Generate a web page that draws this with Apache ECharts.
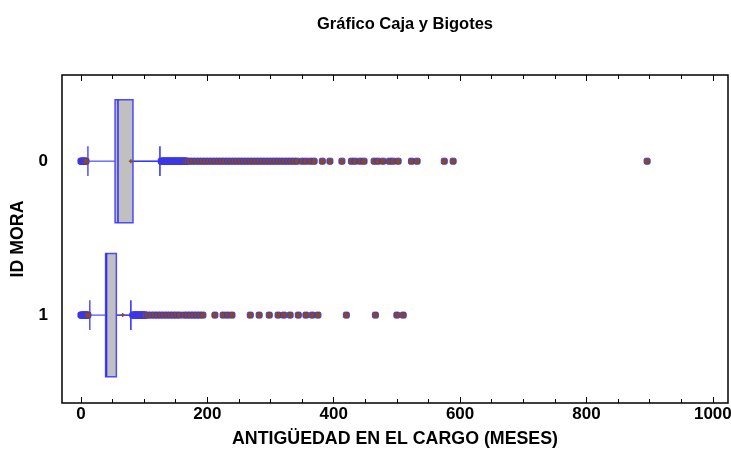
<!DOCTYPE html>
<html><head><meta charset="utf-8">
<script src="https://cdn.jsdelivr.net/npm/echarts@6/dist/echarts.min.js"></script>
<style>html,body{margin:0;padding:0;background:#fff}#c{width:731px;height:450px}</style>
</head><body><div id="c"></div>
<script>
const categories = ['0', '1'];
const q1 = [54, 39];
const median = [58.6, 40.5];
const q3 = [82.3, 56];
const mean = [79, 66];
const whiskerLow = [11, 14];
const whiskerHigh = [125, 79];

const outliers0Low = [0, 1, 2, 3, 4, 5, 6, 7, 8];
const outliers0High = [127,128,129,130,131,132,133,134,135,136,137,138,139,140,141,142,143,144,145,146,147,148,149,150,151,152,153,154,155,156,157,158,159,160,161,162,163,164,165,166,
  168,172,177,182,187,192,197,202,207,212,217,222,227,232,237,242,247,252,257,262,267,272,277,282,287,292,297,302,307,312,317,322,327,332,337,342,
  350,356,363,369,382,394,413,428,434,442,448,464,470,478,488,494,502,523,532,575,589,896];
const outliers1Low = [0, 1, 2, 3, 4, 5, 6, 7, 8, 9, 10, 11];
const outliers1High = [82,83,84,85,86,87,88,89,90,91,92,93,94,95,96,97,98,99,100,101,102,
  106,111,116,121,126,131,136,141,146,151,156,
  163,168,173,178,183,188,193,212,225,232,239,268,282,298,312,321,331,344,356,366,375,420,466,500,510];

const xTickLabels = [0, 200, 400, 600, 800, 1000];
const xMinorTicks = [50,100,150,250,300,350,450,500,550,650,700,750,850,900,950];

const chart = echarts.init(document.getElementById('c'));
const FONT = 'Liberation Sans, Arial, sans-serif';
const boxStroke = '#4a4aff';
const lineBlue = '#2a2aff';

function axisX(pos, ticks, len, withLabels) {
  const a = {
    type: 'value', min: -30, max: 1024, position: pos,
    axisLine: { show: false, onZero: false }, splitLine: { show: false },
    axisTick: { show: true, inside: true, length: len, customValues: ticks, lineStyle: { color: '#000', width: 1 } },
    axisLabel: { show: false }
  };
  if (withLabels) {
    a.axisLabel = { show: true, customValues: ticks, formatter: v => String(v), fontFamily: FONT, fontWeight: 'bold', fontSize: 17, color: '#000', margin: 3 };
    a.name = 'ANTIGÜEDAD EN EL CARGO (MESES)';
    a.nameLocation = 'middle';
    a.nameGap = 27;
    a.nameTextStyle = { fontFamily: FONT, fontWeight: 'bold', fontSize: 17.8, color: '#000' };
  }
  return a;
}

const allOut = [];
outliers0Low.concat(outliers0High).forEach(v => allOut.push([v, 0]));
outliers1Low.concat(outliers1High).forEach(v => allOut.push([v, 1]));

chart.setOption({
  animation: false,
  title: {
    text: 'Gráfico Caja y Bigotes', left: 400, top: 11, textAlign: 'center',
    textStyle: { fontFamily: FONT, fontWeight: 'bold', fontSize: 16.5, color: '#000' }
  },
  grid: { left: 62, right: 3, top: 75, bottom: 47, containLabel: false, outerBoundsMode: 'none', show: true, borderColor: '#000', borderWidth: 1.5, backgroundColor: 'transparent' },
  xAxis: [
    axisX('bottom', xTickLabels, 6, true),
    axisX('bottom', xMinorTicks, 4, false),
    axisX('top', xTickLabels, 6, false),
    axisX('top', xMinorTicks, 4, false)
  ],
  yAxis: {
    type: 'value', inverse: true, min: -0.56, max: 1.571,
    axisLine: { show: false, onZero: false }, axisTick: { show: false }, splitLine: { show: false },
    axisLabel: { customValues: [0, 1], formatter: v => categories[Math.round(v)], fontFamily: FONT, fontWeight: 'bold', fontSize: 17, color: '#000', margin: 14 },
    name: 'ID MORA', nameLocation: 'middle', nameGap: 35, nameRotate: 90,
    nameTextStyle: { fontFamily: FONT, fontWeight: 'bold', fontSize: 17.8, color: '#000' }
  },
  series: [
    {
      type: 'custom', xAxisIndex: 0, yAxisIndex: 0, clip: false, z: 2,
      data: categories.map((c, i) => [i]),
      renderItem: function (params, api) {
        const i = api.value(0);
        const hb = 0.4, hc = 0.097;
        const p = (x, y) => api.coord([x, y]);
        const ch = [];
        const ln = (x1, y1, x2, y2, col, w) => {
          const a = p(x1, y1), b = p(x2, y2);
          ch.push({ type: 'line', shape: { x1: a[0], y1: a[1], x2: b[0], y2: b[1] }, style: { stroke: col, lineWidth: w } });
        };
        ln(whiskerLow[i], i, q1[i], i, '#6e6eff', 1.5);
        ln(q3[i], i, whiskerHigh[i], i, lineBlue, 1.5);
        ln(whiskerLow[i], i - hc, whiskerLow[i], i + hc, '#5050ff', 1.5);
        ln(whiskerHigh[i], i - hc, whiskerHigh[i], i + hc, lineBlue, 1.5);
        const a = p(q1[i], i - hb), b = p(q3[i], i + hb);
        ch.push({ type: 'rect', shape: { x: Math.min(a[0], b[0]), y: Math.min(a[1], b[1]), width: Math.abs(b[0] - a[0]), height: Math.abs(b[1] - a[1]) },
          style: { fill: '#c0c0c0', stroke: boxStroke, lineWidth: 1.5 } });
        ln(median[i], i - hb, median[i], i + hb, lineBlue, 1.5);
        const m = p(mean[i], i);
        ch.push({ type: 'line', shape: { x1: m[0] - 2, y1: m[1], x2: m[0] + 2, y2: m[1] }, style: { stroke: '#8b4a1a', lineWidth: 1.5 } });
        ch.push({ type: 'line', shape: { x1: m[0], y1: m[1] - 2, x2: m[0], y2: m[1] + 2 }, style: { stroke: '#8b4a1a', lineWidth: 1.5 } });
        return { type: 'group', children: ch };
      }
    },
    {
      type: 'scatter', xAxisIndex: 0, yAxisIndex: 0, z: 3,
      symbol: 'roundRect', symbolSize: 6,
      itemStyle: { color: '#8a4a12', borderColor: '#3535ff', borderWidth: 1, opacity: 1 },
      data: allOut
    }
  ]
});
</script>
</body></html>
